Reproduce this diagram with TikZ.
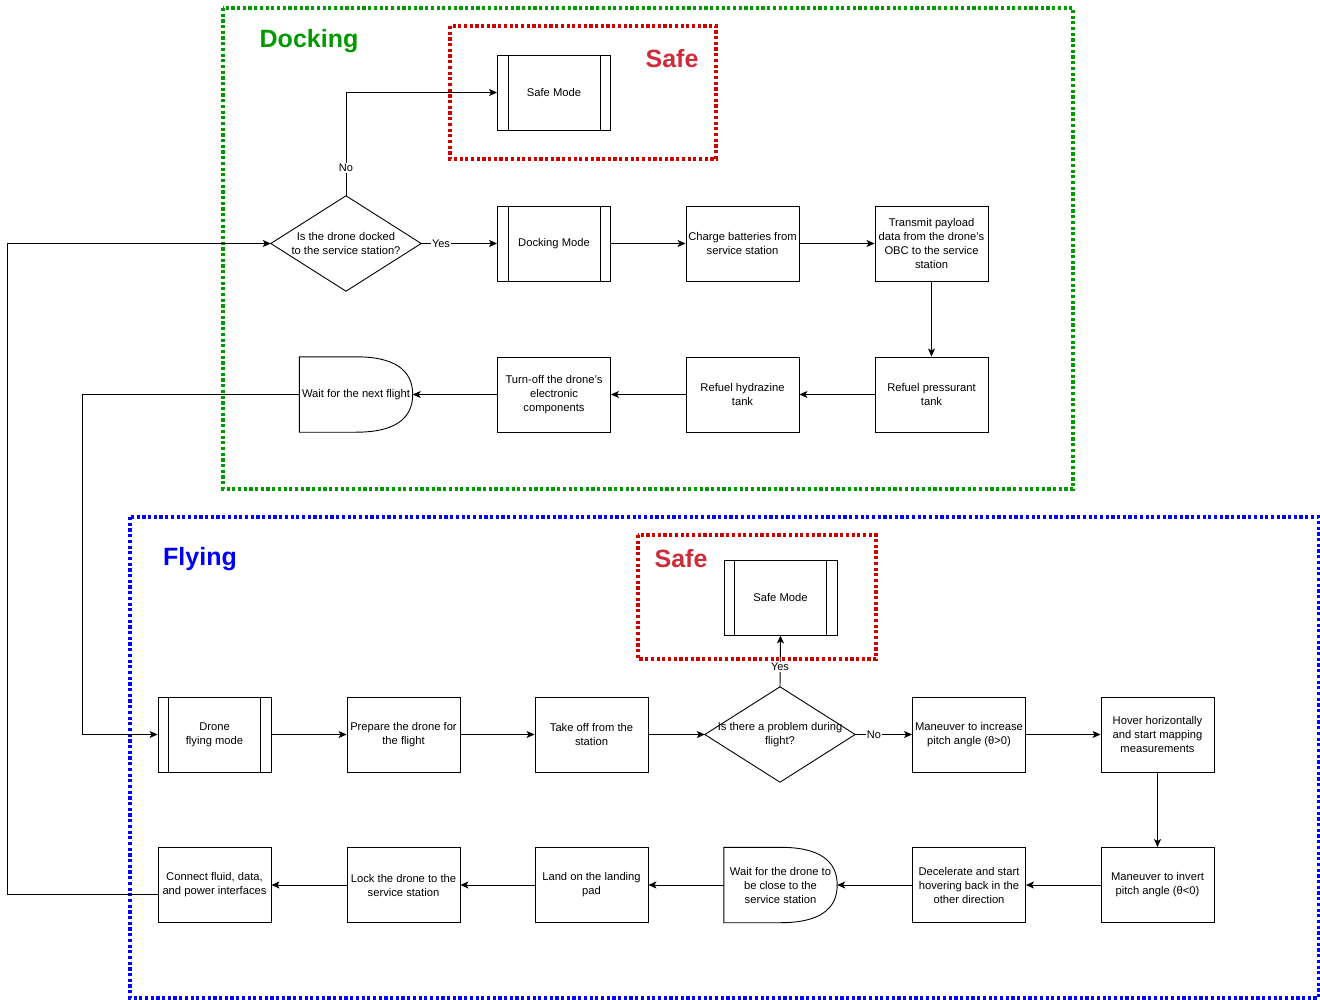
\documentclass[tikz,border=0pt]{standalone}
\usepackage{fontspec}
\setmainfont{Liberation Sans}
\usetikzlibrary{arrows.meta,calc}
\definecolor{dockgreen}{HTML}{009900}
\definecolor{flyblue}{HTML}{0000FF}
\definecolor{safered}{HTML}{CC0000}
\definecolor{safetext}{HTML}{CD2D3A}
\tikzset{
  frame/.style={line width=3.4pt,dash pattern=on 3.2pt off 2.5pt},
  stepbox/.style={rectangle,draw,line width=0.9pt,minimum width=113pt,minimum height=75pt,inner sep=1pt,align=center,font=\fontsize{11.2}{14}\selectfont},
  ghost/.style={rectangle,draw=none,minimum width=113pt,minimum height=75pt,inner sep=1pt,align=center,font=\fontsize{11.2}{14}\selectfont},
  decision/.style={rectangle,draw=none,minimum width=150pt,minimum height=95pt,inner sep=0pt,align=center,font=\fontsize{11.2}{14}\selectfont},
  heading/.style={font=\fontsize{25}{30}\selectfont\bfseries,inner sep=0pt},
  conn/.style={line width=0.9pt,-{Stealth[length=8pt,width=7pt,inset=2pt]}},
  plain/.style={line width=0.9pt},
  elabel/.style={fill=white,inner sep=1pt,font=\fontsize{11}{13}\selectfont}
}
\newcommand{\procbars}[1]{\draw[line width=0.9pt] ([xshift=11pt]#1.north west) -- ([xshift=11pt]#1.south west) ([xshift=-11pt]#1.north east) -- ([xshift=-11pt]#1.south east);}
\newcommand{\delayshape}[1]{\draw[line width=0.9pt] (#1.north west) -- (#1.north) .. controls ([xshift=-19pt]#1.north east) and ([yshift=25pt]#1.east) .. (#1.east) .. controls ([yshift=-25pt]#1.east) and ([xshift=-19pt]#1.south east) .. (#1.south) -- (#1.south west) -- cycle;}
\newcommand{\diamondshape}[1]{\draw[line width=0.9pt] (#1.north) -- (#1.east) -- (#1.south) -- (#1.west) -- cycle;}
\begin{document}
\begin{tikzpicture}[x=1pt,y=-1pt]
\useasboundingbox (0,0) rectangle (1320,1000);
% frames
\draw[frame,dockgreen] (223,8) rectangle (1073,489);
\draw[frame,safered] (450,26) rectangle (716,159);
\draw[frame,flyblue] (130,517) rectangle (1318.3,998);
\draw[frame,safered] (638,535) rectangle (876,659);
\node[heading,text=dockgreen] (hdock) at (309,41) {Docking};
\node[heading,text=safetext] (hsafe1) at (672,59) {Safe};
\node[heading,text=flyblue] (hfly) at (200,559) {Flying};
\node[heading,text=safetext] (hsafe2) at (681,559) {Safe};
% docking nodes
\node[stepbox] (safe1) at (554,92.5) {Safe Mode}; \procbars{safe1}
\node[decision] (d1) at (346,243.5) {Is the drone docked\\to the service station?}; \diamondshape{d1}
\node[stepbox] (dock) at (554,243.5) {Docking Mode}; \procbars{dock}
\node[stepbox] (charge) at (742.5,243.5) {Charge batteries from\\service station};
\node[stepbox] (trans) at (931.5,243.5) {Transmit payload\\data from the drone's\\OBC to the service\\station};
\node[stepbox] (press) at (931.5,394.5) {Refuel pressurant\\tank};
\node[stepbox] (hydra) at (742.5,394.5) {Refuel hydrazine\\tank};
\node[stepbox] (off) at (554,394.5) {Turn-off the drone's\\electronic\\components};
\node[ghost] (wait1) at (356,394.5) {Wait for the next flight}; \delayshape{wait1}
% flying nodes
\node[stepbox] (safe2) at (780.5,597.5) {Safe Mode}; \procbars{safe2}
\node[stepbox] (fly) at (214.5,734.5) {Drone\\flying mode}; \procbars{fly}
\node[stepbox] (prep) at (403.5,734.5) {Prepare the drone for\\the flight};
\node[stepbox] (take) at (591.5,734.5) {Take off from the\\station};
\node[decision] (d2) at (780,734.5) {Is there a problem during\\flight?}; \diamondshape{d2}
\node[stepbox] (man1) at (969,734.5) {Maneuver to increase\\pitch angle (θ>0)};
\node[stepbox] (hover) at (1157.5,734.5) {Hover horizontally\\and start mapping\\measurements};
\node[stepbox] (inv) at (1157.5,885) {Maneuver to invert\\pitch angle (θ<0)};
\node[stepbox] (dec) at (969,885) {Decelerate and start\\hovering back in the\\other direction};
\node[ghost] (wait2) at (780.5,885) {Wait for the drone to\\be close to the\\service station}; \delayshape{wait2}
\node[stepbox] (land) at (591.5,885) {Land on the landing\\pad};
\node[stepbox] (lock) at (403.5,885) {Lock the drone to the\\service station};
\node[stepbox] (conn) at (214.5,885) {Connect fluid, data,\\and power interfaces};
% connectors docking
\draw[conn] (d1.north) |- (safe1.west);
\node[elabel] (lno1) at (346,168) {No};
\draw[conn] (d1.east) -- (dock.west);
\node[elabel] (lyes1) at (441,243.5) {Yes};
\draw[conn] (dock) -- (charge);
\draw[conn] (charge) -- (trans);
\draw[conn] (trans) -- (press);
\draw[conn] (press) -- (hydra);
\draw[conn] (hydra) -- (off);
\draw[conn] (off.west) -- (wait1.east);
\coordinate (c1) at (82,394.5);
\draw[conn] (wait1.west) -- (c1) |- (fly.west);
% connectors flying
\draw[conn] (fly) -- (prep);
\draw[conn] (prep) -- (take);
\draw[conn] (take.east) -- (d2.west);
\draw[conn] (d2.north) -- (safe2.south);
\node[elabel] (lyes2) at (780,667) {Yes};
\draw[conn] (d2.east) -- (man1.west);
\node[elabel] (lno2) at (874,734.5) {No};
\draw[conn] (man1) -- (hover);
\draw[conn] (hover) -- (inv);
\draw[conn] (inv) -- (dec);
\draw[conn] (dec.west) -- (wait2.east);
\draw[conn] (wait2.west) -- (land.east);
\draw[conn] (land) -- (lock);
\draw[conn] (lock) -- (conn);
\coordinate (c2) at (7,894);
\draw[conn] ([yshift=-9pt]conn.west) -- (c2) |- (d1.west);
\end{tikzpicture}
\end{document}
